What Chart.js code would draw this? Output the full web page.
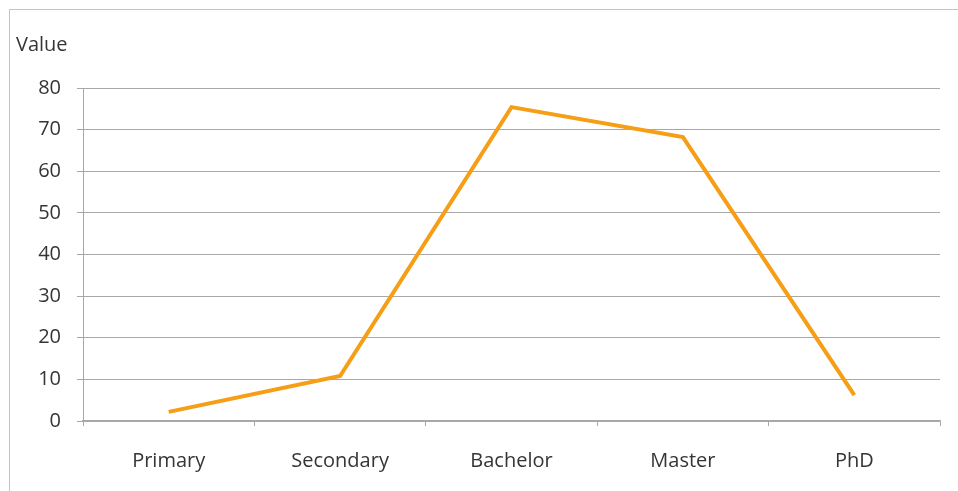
<!DOCTYPE html>
<html><head><meta charset="utf-8">
<script src="https://cdn.jsdelivr.net/npm/chart.js@4"></script>
<style>
html,body{margin:0;padding:0;background:#fff;}
#wrap{position:relative;width:958px;height:491px;overflow:hidden;}
#frame{position:absolute;left:9px;top:9px;width:1000px;height:600px;border-top:1px solid #c4c4c4;border-left:1px solid #c4c4c4;}
canvas{position:absolute;left:0;top:0;}
</style></head>
<body>
<div id="wrap"><div id="frame"></div><canvas id="c" width="958" height="491"></canvas></div>
<script>
const categories = ["Primary", "Secondary", "Bachelor", "Master", "PhD"];
const values = [2.2, 10.8, 75.4, 68.2, 6.2];
const yTicks = [0, 10, 20, 30, 40, 50, 60, 70, 80];
const axisTitle = "Value";

const FONT = "'Open Sans', 'Liberation Sans', sans-serif";
const TEXT = "#353535";
const GRID = "#a8a8a8";

const titlePlugin = {
  id: 'valueLabel',
  afterDraw(chart) {
    const ctx = chart.ctx;
    ctx.save();
    ctx.font = "20px " + FONT;
    ctx.fillStyle = TEXT;
    ctx.textBaseline = "middle";
    ctx.textAlign = "left";
    ctx.fillText(axisTitle, 16, 45);
    ctx.restore();
  }
};

new Chart(document.getElementById('c'), {
  type: 'line',
  data: {
    labels: categories,
    datasets: [{
      data: values,
      borderColor: 'rgb(245,158,22)',
      borderWidth: 4,
      pointRadius: 0,
      tension: 0,
      fill: false
    }]
  },
  options: {
    responsive: false,
    animation: false,
    devicePixelRatio: 1,
    layout: { padding: { left: 0, right: 18, top: 88, bottom: 0 } },
    plugins: { legend: { display: false }, tooltip: { enabled: false } },
    scales: {
      x: {
        type: 'category',
        offset: true,
        grid: { offset: true, drawOnChartArea: false, drawTicks: true, tickLength: 5, color: GRID },
        border: { display: true, color: GRID, width: 1.5 },
        ticks: { font: { family: FONT, size: 20 }, color: TEXT, padding: 23, maxRotation: 0 },
        afterFit(s) { s.height = 70; }
      },
      y: {
        min: 0, max: 80,
        afterBuildTicks(s) { s.ticks = yTicks.map(v => ({ value: v })); },
        grid: { color: GRID, drawTicks: true, tickLength: 6 },
        border: { display: true, color: GRID, width: 1 },
        ticks: { font: { family: FONT, size: 20 }, color: TEXT, padding: 16 },
        afterFit(s) { s.width = 83; }
      }
    }
  },
  plugins: [titlePlugin]
});
</script>
</body></html>
